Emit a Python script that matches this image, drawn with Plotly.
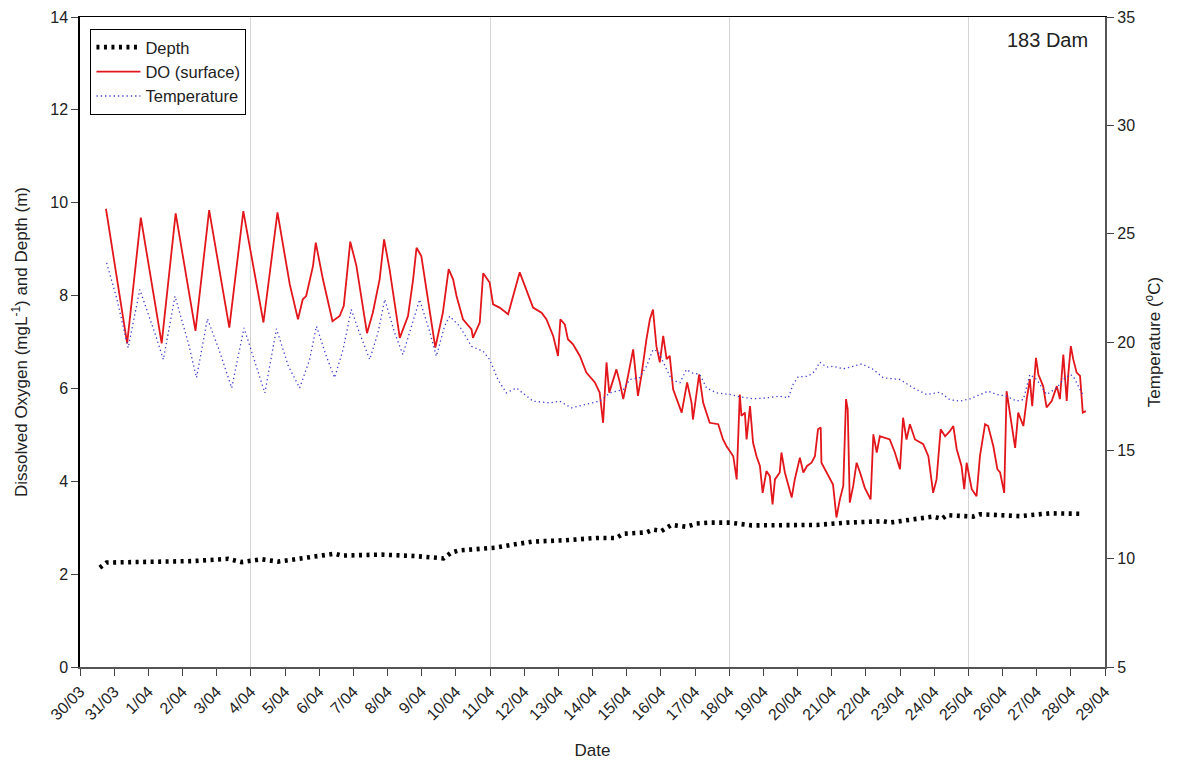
import pandas as pd
import plotly.graph_objects as go

# Elapsed time is in days from 30/03 00:00
START = pd.Timestamp("2012-03-30")

# Dissolved oxygen at the surface (mg/L)
do_days = [0.76, 1.38, 1.78, 2.39, 2.80, 3.38, 3.78, 4.37, 4.78, 5.37, 5.78, 6.14, 6.38,
           6.52, 6.62, 6.82, 6.90, 7.11, 7.39, 7.60, 7.72, 7.91, 8.09, 8.40, 8.57, 8.77,
           8.90, 9.06, 9.36, 9.60, 9.75, 9.85, 9.99, 10.40, 10.62, 10.72, 10.79, 10.92,
           11.02, 11.21, 11.46, 11.50, 11.70, 11.80, 11.99, 12.09, 12.28, 12.53, 12.67,
           12.87, 13.02, 13.26, 13.51, 13.65, 13.85, 13.99, 14.06, 14.19, 14.28, 14.43,
           14.63, 14.82, 15.07, 15.21, 15.31, 15.41, 15.49, 15.70, 15.80, 15.90, 16.04,
           16.19, 16.33, 16.43, 16.58, 16.68, 16.77, 16.87, 16.97, 17.07, 17.17, 17.26,
           17.36, 17.51, 17.61, 17.77, 17.90, 17.94, 18.12, 18.24, 18.43, 18.68, 18.82,
           18.92, 19.12, 19.22, 19.31, 19.36, 19.46, 19.51, 19.61, 19.70, 19.80, 19.90,
           19.98, 20.09, 20.19, 20.27, 20.34, 20.48, 20.53, 20.63, 20.73, 20.83, 20.92,
           21.07, 21.17, 21.28, 21.41, 21.51, 21.60, 21.68, 21.70, 21.85, 22.04, 22.14,
           22.24, 22.34, 22.42, 22.47, 22.53, 22.63, 22.73, 22.83, 22.97, 23.14, 23.22,
           23.32, 23.41, 23.70, 23.85, 24.00, 24.09, 24.19, 24.29, 24.44, 24.68, 24.83,
           24.97, 25.07, 25.19, 25.32, 25.46, 25.56, 25.66, 25.80, 25.88, 25.95, 26.10,
           26.24, 26.34, 26.49, 26.58, 26.73, 26.85, 26.93, 27.05, 27.12, 27.22, 27.37,
           27.46, 27.61, 27.71, 27.80, 27.87, 27.98, 28.05, 28.19, 28.29, 28.44, 28.59,
           28.68, 28.78, 28.88, 28.93, 29.00, 29.07, 29.17, 29.27, 29.35, 29.44]
do_values = [9.87, 6.97, 9.68, 6.97, 9.77, 7.24, 9.84, 7.31, 9.82, 7.42, 9.79, 8.24, 7.49,
             7.92, 7.99, 8.64, 9.14, 8.35, 7.45, 7.56, 7.78, 9.16, 8.64, 7.19, 7.63, 8.35,
             9.21, 8.57, 7.09, 7.56, 8.35, 9.03, 8.85, 6.88, 7.63, 8.14, 8.57, 8.35,
             7.99, 7.49, 7.27, 7.09, 7.42, 8.48, 8.28, 7.81, 7.74, 7.60, 7.99,
             8.50, 8.21, 7.74, 7.63, 7.49, 7.13, 6.70, 7.49, 7.38, 7.06, 6.95,
             6.70, 6.34, 6.13, 5.91, 5.26, 6.56, 5.91, 6.41, 6.13, 5.77, 6.27,
             6.84, 5.84, 6.27, 7.06, 7.49, 7.70, 6.91, 6.56, 7.13, 6.63, 6.70,
             5.98, 5.69, 5.48, 6.13, 5.69, 5.33, 6.30, 5.69, 5.26, 5.23, 4.90,
             4.76, 4.54, 4.04, 5.87, 5.41, 5.48, 4.90, 5.62, 4.83, 4.54, 4.33,
             3.75, 4.22, 4.11, 3.50, 4.04, 4.19, 4.62, 4.19, 3.90, 3.65, 4.04,
             4.51, 4.19, 4.33, 4.40, 4.54, 5.12, 5.16, 4.40, 4.19, 3.93, 3.22,
             3.61, 3.90, 5.77, 5.55, 3.54, 3.90, 4.40, 4.19, 3.86, 3.61, 5.01,
             4.62, 4.97, 4.90, 4.62, 4.26, 5.37, 4.90, 5.23, 4.90, 4.80, 4.54,
             3.75, 4.04, 5.12, 4.97, 5.08, 5.19, 4.69, 4.33, 3.83, 4.40, 3.83,
             3.68, 4.54, 5.23, 5.19, 4.76, 4.26, 4.19, 3.75, 5.94, 5.48, 4.72,
             5.48, 5.19, 5.77, 6.20, 5.62, 6.66, 6.30, 6.05, 5.59, 5.73, 6.05,
             5.77, 6.73, 5.73, 6.34, 6.91, 6.63, 6.34, 6.27, 5.48, 5.51]

# Water temperature (deg C)
temp_days = [0.78, 1.07, 1.41, 1.75, 2.19, 2.44, 2.78, 3.17, 3.41, 3.73, 4.05, 4.44, 4.80,
             5.07, 5.41, 5.75, 6.10, 6.43, 6.72, 6.92, 7.21, 7.45, 7.70, 7.94, 8.18, 8.48,
             8.72, 8.92, 9.21, 9.45, 9.75, 9.94, 10.23, 10.43, 10.67, 10.82, 11.11, 11.46,
             11.80, 11.99, 12.23, 12.48, 12.77, 13.26, 13.75, 14.04, 14.38, 14.82, 15.21,
             15.51, 15.90, 16.09, 16.38, 16.58, 16.77, 16.92, 17.07, 17.31, 17.56, 17.75,
             17.90, 18.14, 18.34, 18.63, 19.02, 19.31, 19.70, 20.09, 20.48, 20.73, 20.87,
             21.02, 21.31, 21.51, 21.65, 21.85, 22.04, 22.34, 22.63, 22.88, 23.22, 23.51,
             24.00, 24.39, 24.78, 25.17, 25.46, 25.75, 26.05, 26.24, 26.58, 26.83, 27.12,
             27.41, 27.61, 27.80, 28.00, 28.29, 28.59, 28.78, 28.98, 29.07, 29.27, 29.37]
temp_values = [23.65, 22.04, 19.73, 22.42, 20.42, 19.19, 22.11, 19.96, 18.35, 21.07, 19.73,
               17.88, 20.65, 19.34, 17.65, 20.61, 18.88, 17.88, 19.19, 20.73, 19.34, 18.35,
               19.65, 21.50, 20.42, 19.19, 20.42, 21.96, 20.42, 19.42, 21.04, 21.96, 20.50,
               19.34, 20.73, 21.19, 20.73, 19.80, 19.57, 19.19, 18.27, 17.65, 17.88, 17.27,
               17.19, 17.27, 16.96, 17.11, 17.27, 17.65, 17.81, 18.27, 18.35, 18.88, 19.65,
               19.57, 19.04, 18.27, 18.12, 18.73, 18.58, 18.50, 17.88, 17.65, 17.58, 17.47,
               17.38, 17.42, 17.50, 17.42, 18.04, 18.39, 18.42, 18.65, 19.07, 18.84, 18.88,
               18.76, 18.88, 18.99, 18.73, 18.35, 18.27, 17.88, 17.58, 17.68, 17.34, 17.27,
               17.38, 17.50, 17.73, 17.58, 17.50, 17.27, 17.34, 18.50, 18.27, 17.58, 17.88,
               18.27, 18.50, 18.42, 17.81, 17.50]

# Logger depth (m)
depth_days = [0.58, 0.78, 3.27, 4.34, 4.73, 5.32, 5.80, 6.88, 7.46, 7.66, 8.83, 9.80, 10.64,
              10.86, 11.08, 12.15, 12.73, 13.22, 14.20, 15.13, 15.70, 15.90, 16.58, 16.77,
              17.02, 17.31, 17.75, 18.04, 18.43, 19.02, 19.66, 20.78, 21.56, 22.44, 23.51,
              23.70, 24.29, 24.97, 25.22, 25.37, 26.14, 26.34, 27.51, 28.39, 29.27]
depth_values = [2.14, 2.25, 2.28, 2.33, 2.26, 2.32, 2.27, 2.37, 2.44, 2.40, 2.42, 2.39, 2.34,
                2.46, 2.51, 2.57, 2.64, 2.70, 2.73, 2.78, 2.78, 2.87, 2.90, 2.96,
                2.93, 3.06, 3.02, 3.09, 3.11, 3.11, 3.05, 3.07, 3.06, 3.11, 3.14,
                3.11, 3.18, 3.24, 3.19, 3.27, 3.24, 3.29, 3.25, 3.31, 3.30]

x_start_day, x_end_day = 0, 30      # 30/03 .. 29/04
grid_first_day, grid_step_days = 5, 7   # weekly grid from 4/04


def to_time(days):
    return START + pd.to_timedelta(pd.Series(days, dtype=float), unit="D")


FONT = "Liberation Sans, Arial, sans-serif"
x_range = [START + pd.Timedelta(days=x_start_day), START + pd.Timedelta(days=x_end_day)]

fig = go.Figure()
fig.add_trace(go.Scatter(
    x=to_time(depth_days), y=depth_values, name="Depth", mode="lines",
    line=dict(color="black", width=4.6, dash="3px,4.5px"), yaxis="y"))
fig.add_trace(go.Scatter(
    x=to_time(do_days), y=do_values, name="DO (surface)", mode="lines",
    line=dict(color="#e3161b", width=1.8), yaxis="y"))
fig.add_trace(go.Scatter(
    x=to_time(temp_days), y=temp_values, name="Temperature", mode="lines",
    line=dict(color="#3c3cd0", width=1.3, dash="1.3px,3px"), yaxis="y2"))

tick_font = dict(family=FONT, size=16, color="#222")
title_font = dict(family=FONT, size=17, color="#222")

fig.update_layout(
    width=1188, height=767,
    margin=dict(l=80, r=83, t=17, b=100),
    paper_bgcolor="white", plot_bgcolor="white",
    showlegend=True,
    legend=dict(x=0.01, y=0.982, xanchor="left", yanchor="top",
                bgcolor="white", bordercolor="black", borderwidth=1.2,
                font=dict(family=FONT, size=16.5, color="#222"),
                tracegroupgap=0, itemwidth=44),
    xaxis=dict(
        type="date", range=x_range, tickformat="%-d/%m",
        dtick=86400000, tick0=x_range[0], tickangle=-45,
        ticks="outside", ticklen=7, tickcolor="#444", tickwidth=1.2,
        showline=True, linecolor="#555", linewidth=2.2,
        showgrid=False, zeroline=False,
        tickfont=tick_font,
        title=dict(text="Date", font=title_font, standoff=22),
        automargin=False),
    xaxis2=dict(
        type="date", range=x_range, overlaying="x", side="top",
        dtick=grid_step_days * 86400000,
        tick0=START + pd.Timedelta(days=grid_first_day),
        showgrid=True, gridcolor="#d4d4d4", gridwidth=1,
        showticklabels=False, ticks="",
        showline=True, linecolor="black", linewidth=1.2,
        zeroline=False, automargin=False),
    yaxis=dict(
        range=[0, 14], dtick=2, ticks="outside", ticklen=7,
        tickcolor="#444", showline=True, linecolor="black", linewidth=1.5,
        showgrid=False, zeroline=False, tickfont=tick_font,
        title=dict(text="Dissolved Oxygen (mgL<sup>-1</sup>) and Depth (m)",
                   font=title_font, standoff=18),
        automargin=False),
    yaxis2=dict(
        range=[5, 35], dtick=5, overlaying="y", side="right",
        ticks="outside", ticklen=7, tickcolor="#444",
        showline=True, linecolor="#555", linewidth=2.2,
        showgrid=False, zeroline=False, tickfont=tick_font,
        title=dict(text="Temperature (<sup>o</sup>C)", font=title_font, standoff=14),
        automargin=False),
)

# Invisible trace that attaches the secondary x axis carrying the weekly grid
fig.add_trace(go.Scatter(x=x_range, y=[None, None], xaxis="x2", yaxis="y",
                         showlegend=False, hoverinfo="skip", mode="lines"))

fig.add_annotation(text="183 Dam", xref="paper", yref="paper", x=0.985, y=0.985,
                   xanchor="right", yanchor="top", showarrow=False,
                   font=dict(family=FONT, size=20, color="#222"))

fig.write_html("out.html")
